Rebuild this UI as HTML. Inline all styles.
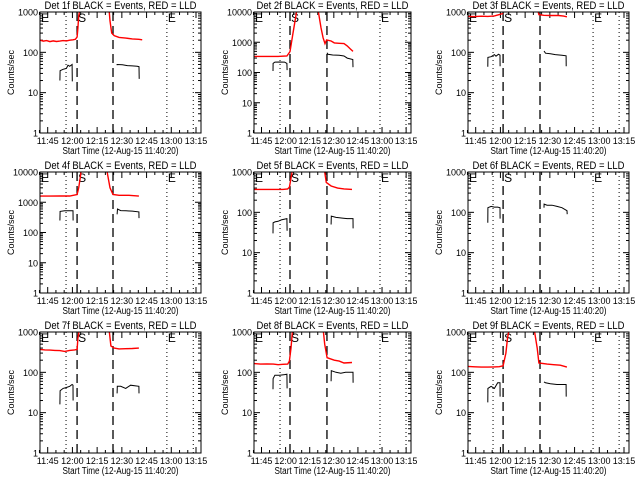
<!DOCTYPE html>
<html><head><meta charset="utf-8"><style>
html,body{margin:0;padding:0;background:#fff;}
svg{display:block;font-family:"Liberation Sans",sans-serif;}
</style></head><body>
<svg id="chart" width="640" height="480" viewBox="0 0 640 480" xmlns="http://www.w3.org/2000/svg"></svg>
<script>
// time in minutes after 11:40:20
const tickLabels = ["11:45","12:00","12:15","12:30","12:45","13:00","13:15"];
const tickTimes = [4.67,19.67,34.67,49.67,64.67,79.67,94.67];
const detNames = ["1f","2f","3f","4f","5f","6f","7f","8f","9f"];
const yTops = [1000,10000,1000,10000,1000,1000,1000,1000,1000];
const markerTimesCol1 = [15.8,22.5,44.3,77,93];
const markerTimesCol2 = [16.2,22.4,45.4,78.4,94.6];
const markerTimesCol3 = [15.2,21.3,43.7,75.9,91.7];

const red1_1 = [[0,200],[2,190],[4,195],[6,185],[8,192],[10,186],[12,190],[14,195],[16,192],[18,200],[20,205],[21.5,210],[22.5,240],[23,400],[23.5,800],[24.3,1200]];
const red2_1 = [[41.9,1200],[42.5,600],[43.5,300],[45,260],[48,235],[52,225],[56,215],[60,210],[62,205]];
const blk1_1 = [[12.1,20],[12.2,35],[14,38],[16,40],[17,48],[18,45],[19.5,50],[19.6,19]];
const blk2_1 = [[46.7,48],[46.8,50],[50,49],[53,47],[56,46],[59,45],[60.1,44],[60.2,22]];

const red1_2 = [[0,340],[5,340],[10,340],[15,340],[20.5,350],[22.4,490],[24.3,2000],[25.5,5000],[26.7,12000]];
const red2_2 = [[39.8,12000],[41.7,3000],[43,1400],[44.2,900],[45.2,1200],[48,1100],[50,950],[53,920],[56,900],[58,760],[60,600],[61.6,500]];
const blk1_2 = [[11.8,112],[11.9,200],[13,220],[16,222],[19,220],[20.5,200],[20.6,120]];
const blk2_2 = [[45.4,450],[46,400],[49,380],[53,370],[56,350],[58,300],[61.5,270],[61.6,150]];

const red1_3 = [[0,780],[4,770],[8,785],[12,780],[16,800],[19,860],[21.3,920]];
const red2_3 = [[42.5,1050],[43,860],[46,830],[50,820],[55,820],[58,790],[60,760]];
const blk1_3 = [[12,44],[12.1,75],[14,78],[16,88],[17,80],[18.5,90],[19.4,85],[19.5,45]];
const blk2_3 = [[46.1,108],[47,95],[50,92],[53,88],[57,85],[59.5,82],[59.6,45]];

const red1_4 = [[0,1600],[6,1600],[12,1610],[18,1610],[22.5,1800],[23.5,3000],[24.5,7000],[25,12000]];
const red2_4 = [[40.5,12000],[42.5,3000],[44.3,1800],[48,1700],[54,1700],[60,1600]];
const blk1_4 = [[12.1,250],[12.2,500],[15,520],[18,520],[20,520],[20.1,250]];
const blk2_4 = [[46.8,400],[47,600],[49,530],[52,520],[56,510],[60,480],[60.1,300]];

const red1_5 = [[0,370],[6,370],[12,370],[18,370],[21,380],[22,420],[23,700],[24,1200]];
const red2_5 = [[43.7,1200],[45,550],[48,450],[52,400],[56,380],[61,370]];
const blk1_5 = [[11.8,30],[11.9,55],[13,58],[15,60],[17,65],[20.5,70],[20.6,35]];
const blk2_5 = [[48,50],[48.1,80],[51,75],[55,72],[58,70],[61.6,70],[61.7,40]];

const red1_6 = [];
const red2_6 = [];
const blk1_6 = [[12,55],[12.1,130],[14,140],[16,135],[18,135],[19.4,130],[19.5,70]];
const blk2_6 = [[46.1,130],[46.2,160],[48,150],[51,150],[54,140],[57,130],[60.1,110],[60.2,90]];

const red1_7 = [[0,370],[3,360],[6,355],[9,350],[12,345],[15,330],[18,350],[21,360],[22.5,370],[23,700],[24,1200]];
const red2_7 = [[41.9,1200],[43,450],[45,400],[48,380],[52,385],[56,390],[60,400]];
const blk1_7 = [[12.1,16],[12.2,35],[14,40],[16,42],[18,45],[19.5,50],[20,48],[20.1,20]];
const blk2_7 = [[46.8,30],[46.9,45],[49,45],[52,40],[55,48],[58,46],[60,45],[60.1,30]];

const red1_8 = [[0,165],[4,160],[8,162],[12,160],[15,155],[18,158],[21,160],[22,190],[23,400],[24,1200]];
const red2_8 = [[43,1200],[44,500],[45.5,230],[50,200],[53,190],[56,170],[61,175]];
const blk1_8 = [[11.8,38],[11.9,70],[13,85],[16,85],[19,88],[20.5,90],[20.6,40]];
const blk2_8 = [[48,60],[48.1,110],[51,100],[54,95],[57,100],[61.6,100],[61.7,55]];

const red1_9 = [[0,140],[4,137],[8,135],[12,135],[16,136],[19,138],[21.3,145],[23,300],[24,700],[25,1200]];
const red2_9 = [[40.1,1200],[42,400],[43,170],[48,160],[52,155],[56,150],[60,135]];
const blk1_9 = [[12,18],[12.1,40],[14,45],[16,40],[18,55],[19.4,55],[19.5,25]];
const blk2_9 = [[46.1,58],[47,55],[50,52],[54,50],[57,50],[59.5,50],[59.6,25]];

const redA = [red1_1,red1_2,red1_3,red1_4,red1_5,red1_6,red1_7,red1_8,red1_9];
const redB = [red2_1,red2_2,red2_3,red2_4,red2_5,red2_6,red2_7,red2_8,red2_9];
const blkA = [blk1_1,blk1_2,blk1_3,blk1_4,blk1_5,blk1_6,blk1_7,blk1_8,blk1_9];
const blkB = [blk2_1,blk2_2,blk2_3,blk2_4,blk2_5,blk2_6,blk2_7,blk2_8,blk2_9];

const NS="http://www.w3.org/2000/svg";
const svg=document.getElementById('chart');
function mk(tag,attrs,parent){const e=document.createElementNS(NS,tag);for(const k in attrs)e.setAttribute(k,attrs[k]);(parent||svg).appendChild(e);return e;}
const colX=[[40,201],[254,411],[468,629]];
const rowY=[[12,133],[172,293],[332,453]];
const TMAX=97.7;
const markerSets=[markerTimesCol1,markerTimesCol2,markerTimesCol3];

for(let p=0;p<9;p++){
  const c=p%3,r=Math.floor(p/3);
  const [x0,x1]=colX[c],[y0,y1]=rowY[r];
  const top=yTops[p];const dec=Math.log10(top);
  const xs=t=>x0+(x1-x0)*t/TMAX;
  const ys=v=>y1-(y1-y0)*Math.log10(Math.max(v,1))/dec;
  const g=mk('g',{});
  
  
  const clipId='clip'+p;
  const cp=mk('clipPath',{id:clipId},g);mk('rect',{x:x0,y:y0,width:x1-x0,height:y1-y0},cp);
  // title
  const tt=mk('text',{x:(x0+x1)/2,y:y0-3,'text-anchor':'middle','font-size':11,textLength:152,lengthAdjust:'spacingAndGlyphs'},g);
  tt.textContent='Det '+detNames[p]+' BLACK = Events, RED = LLD';
  
  
  // y label
  const yl=mk('text',{x:0,y:0,'text-anchor':'middle','font-size':9,transform:`translate(${x0-26},${(y0+y1)/2}) rotate(-90)`},g);
  yl.textContent='Counts/sec';
  
  
  // x label
  const xl=mk('text',{x:(x0+x1)/2,y:y1+21,'text-anchor':'middle','font-size':10,textLength:116,lengthAdjust:'spacingAndGlyphs'},g);
  xl.textContent='Start Time (12-Aug-15 11:40:20)';
  
  
  // y ticks
  for(let d=0;d<=dec;d++){
    const v=Math.pow(10,d),y=ys(v);
    mk('line',{x1:x0,x2:x0+6,y1:y,y2:y,stroke:'#000'},g);
    mk('line',{x1:x1,x2:x1-6,y1:y,y2:y,stroke:'#000'},g);
    const lb=mk('text',{x:x0-2,y:y+3.5,'text-anchor':'end','font-size':9},g);
    lb.textContent=String(v);
    
    
    if(d<dec)for(let m=2;m<=9;m++){const ym=ys(v*m);
      mk('line',{x1:x0,x2:x0+3,y1:ym,y2:ym,stroke:'#000'},g);
      mk('line',{x1:x1,x2:x1-3,y1:ym,y2:ym,stroke:'#000'},g);}
  }
  // x ticks
  for(let i=0;i<tickTimes.length;i++){
    const x=xs(tickTimes[i]);
    mk('line',{x1:x,x2:x,y1:y1,y2:y1-6,stroke:'#000'},g);
    mk('line',{x1:x,x2:x,y1:y0,y2:y0+6,stroke:'#000'},g);
    for(let m=1;m<3;m++){const xm=xs(tickTimes[i]+5*m);if(xm<x1){
      mk('line',{x1:xm,x2:xm,y1:y1,y2:y1-3,stroke:'#000'},g);
      mk('line',{x1:xm,x2:xm,y1:y0,y2:y0+3,stroke:'#000'},g);}}
    const lb=mk('text',{x:x,y:y1+11,'text-anchor':'middle','font-size':9},g);
    lb.textContent=tickLabels[i];
    
    
  }
  {const xm=xs(tickTimes[0]-5);mk('line',{x1:xm,x2:xm,y1:y1,y2:y1-3,stroke:'#000'},g);mk('line',{x1:xm,x2:xm,y1:y0,y2:y0+3,stroke:'#000'},g);}
  // marker lines
  const mt=markerSets[c];
  mt.forEach((t,i)=>{const x=xs(t);const dashed=(i===1||i===2);
    const ln=mk('line',{x1:x,x2:x,y1:y0,y2:y1,stroke:'#000','stroke-width':dashed?1.3:1,'stroke-dasharray':dashed?'9,5':'1,3'},g);
    
    });
  // E S E labels
  [[0,'E'],[mt[1],'S'],[mt[3],'E']].forEach(([t,s])=>{
    const tx=mk('text',{x:xs(t)+1,y:y0+10,'font-size':12},g);tx.textContent=s;
    
    });
  // series
  const cg=mk('g',{'clip-path':`url(#${clipId})`},g);
  const draw=(arr,col,name)=>{if(!arr.length)return;
    const pl=mk('polyline',{points:arr.map(([t,v])=>xs(t).toFixed(1)+','+ys(v).toFixed(1)).join(' '),fill:'none',stroke:col,'stroke-width':col==='#000'?1:1.4},cg);
    
    };
  draw(redA[p],'#f00','lld-rate-pre');draw(redB[p],'#f00','lld-rate-post');
  draw(blkA[p],'#000','event-rate-pre');draw(blkB[p],'#000','event-rate-post');
  // frame
  const fr=mk('rect',{x:x0,y:y0,width:x1-x0,height:y1-y0,fill:'none',stroke:'#000'},g);
  
  
}
</script>
</body></html>
